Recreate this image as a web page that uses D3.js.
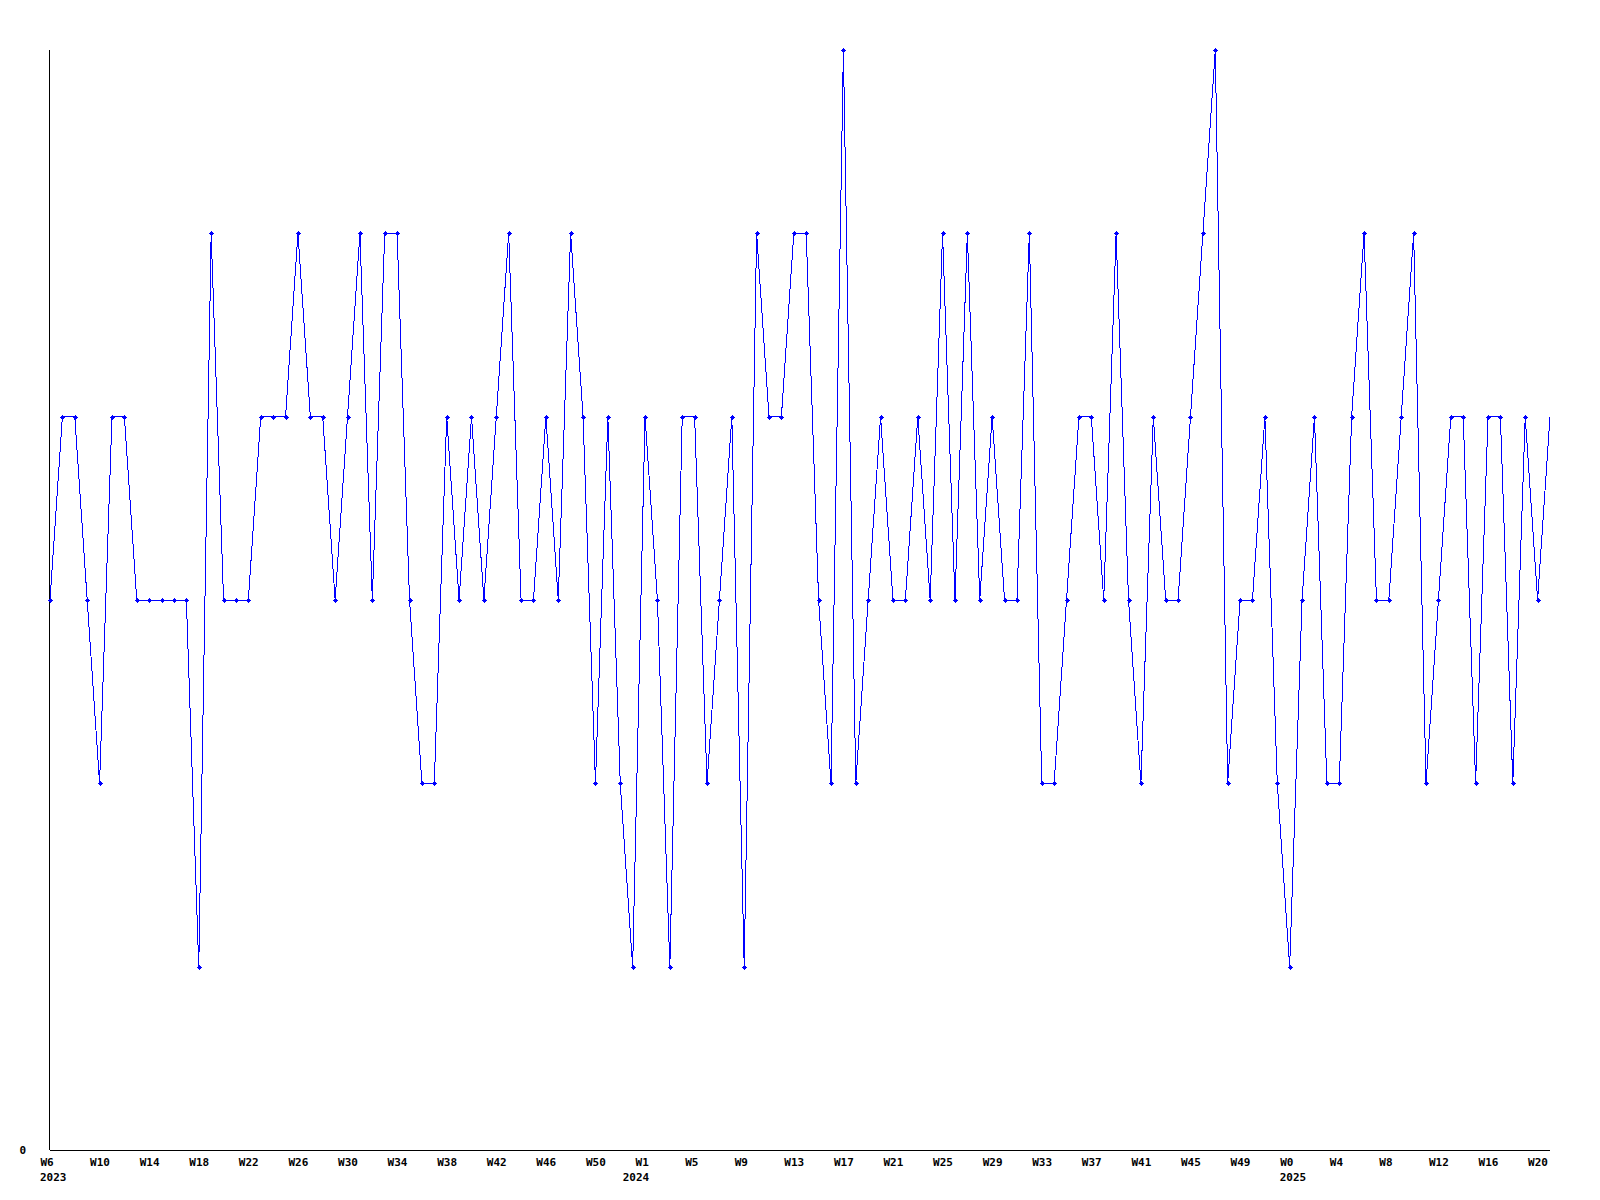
<!DOCTYPE html>
<html>
<head>
<meta charset="utf-8">
<script src="https://cdn.jsdelivr.net/npm/d3@7"></script>
<style>
  html, body { margin: 0; padding: 0; background: #ffffff; }
  svg { display: block; }
  text { font-family: "DejaVu Sans Mono", "Liberation Mono", monospace; font-weight: bold; font-size: 11px; fill: #000; }
</style>
</head>
<body>
<svg id="chart" width="1600" height="1200"></svg>
<script>
// Week categories (one per data point)
const weeks = [
  "2023-W6","2023-W7","2023-W8","2023-W9","2023-W10","2023-W11","2023-W12","2023-W13","2023-W14","2023-W15",
  "2023-W16","2023-W17","2023-W18","2023-W19","2023-W20","2023-W21","2023-W22","2023-W23","2023-W24","2023-W25",
  "2023-W26","2023-W27","2023-W28","2023-W29","2023-W30","2023-W31","2023-W32","2023-W33","2023-W34","2023-W35",
  "2023-W36","2023-W37","2023-W38","2023-W39","2023-W40","2023-W41","2023-W42","2023-W43","2023-W44","2023-W45",
  "2023-W46","2023-W47","2023-W48","2023-W49","2023-W50","2023-W51","2023-W52",
  "2024-W0","2024-W1","2024-W2","2024-W3","2024-W4","2024-W5","2024-W6","2024-W7","2024-W8","2024-W9","2024-W10",
  "2024-W11","2024-W12","2024-W13","2024-W14","2024-W15","2024-W16","2024-W17","2024-W18","2024-W19","2024-W20",
  "2024-W21","2024-W22","2024-W23","2024-W24","2024-W25","2024-W26","2024-W27","2024-W28","2024-W29","2024-W30",
  "2024-W31","2024-W32","2024-W33","2024-W34","2024-W35","2024-W36","2024-W37","2024-W38","2024-W39","2024-W40",
  "2024-W41","2024-W42","2024-W43","2024-W44","2024-W45","2024-W46","2024-W47","2024-W48","2024-W49","2024-W50",
  "2024-W51","2024-W52",
  "2025-W0","2025-W1","2025-W2","2025-W3","2025-W4","2025-W5","2025-W6","2025-W7","2025-W8","2025-W9",
  "2025-W10","2025-W11","2025-W12","2025-W13","2025-W14","2025-W15","2025-W16","2025-W17","2025-W18","2025-W19",
  "2025-W20","2025-W21"
];

// Series values (one per week)
const values = [
  3,4,4,3,2,4,4,3,3,3,
  3,3,1,5,3,3,3,4,4,4,
  5,4,4,3,4,5,3,5,5,3,
  2,2,4,3,4,3,4,5,3,3,
  4,3,5,4,2,4,2,1,4,3,
  1,4,4,2,3,4,1,5,4,4,
  5,5,3,2,6,2,3,4,3,3,
  4,3,5,3,5,3,4,3,3,5,
  2,2,3,4,4,3,5,3,2,4,
  3,3,4,5,6,2,3,3,4,2,
  1,3,4,2,2,4,5,3,3,4,
  5,2,3,4,4,2,4,4,2,4,
  3,4
];

// Tick labels on the x axis (every 4th week) and year sub-labels
const tickWeeks = [
  "2023-W6","2023-W10","2023-W14","2023-W18","2023-W22","2023-W26","2023-W30","2023-W34","2023-W38","2023-W42","2023-W46","2023-W50",
  "2024-W1","2024-W5","2024-W9","2024-W13","2024-W17","2024-W21","2024-W25","2024-W29","2024-W33","2024-W37","2024-W41","2024-W45","2024-W49",
  "2025-W0","2025-W4","2025-W8","2025-W12","2025-W16","2025-W20"
];
const yearTicks = ["2023-W6","2024-W0","2025-W0"];
const yTicks = [0];

const svg = d3.select("#chart");
const mLeft = 50, mRight = 1550, mTop = 50, mBottom = 1150;

const x = d3.scalePoint().domain(weeks).range([mLeft, mRight]);
const y = d3.scaleLinear().domain([0, d3.max(values)]).range([mBottom, mTop]);

// x axis
const xAxis = d3.axisBottom(x).tickValues(tickWeeks).tickSize(0).tickPadding(0)
  .tickFormat(d => d.split("-")[1]);
const gx = svg.append("g").attr("transform", `translate(0,${mBottom})`).call(xAxis);
gx.select(".domain").attr("stroke", "#000").attr("stroke-width", 1).attr("shape-rendering", "crispEdges")
  .attr("d", `M${mLeft},0.5H${mRight}`);
gx.selectAll(".tick text")
  .attr("text-anchor", "start").attr("x", -10).attr("y", 16).attr("dy", null)
  .style("font-family", "'DejaVu Sans Mono', monospace").style("font-weight", "bold").style("font-size", "11px").attr("fill", "#000");

// year labels
svg.append("g").selectAll("text").data(yearTicks).join("text")
  .attr("x", d => x(d) - 10).attr("y", mBottom + 31)
  .text(d => d.split("-")[0]);

// y axis
const yAxis = d3.axisLeft(y).tickValues(yTicks).tickSize(0).tickPadding(24).tickFormat(d3.format("d"));
const gy = svg.append("g").attr("transform", `translate(${mLeft},0)`).call(yAxis);
gy.select(".domain").attr("stroke", "#000").attr("stroke-width", 1).attr("shape-rendering", "crispEdges")
  .attr("d", `M-0.5,${mTop}V${mBottom}`);
gy.selectAll(".tick text")
  .style("font-family", "'DejaVu Sans Mono', monospace").style("font-weight", "bold").style("font-size", "11px").attr("fill", "#000");

// line
const data = weeks.map((w, i) => ({w, v: values[i]}));
const line = d3.line().x(d => x(d.w)).y(d => y(d.v));
svg.append("path").datum(data)
  .attr("d", line)
  .attr("fill", "none").attr("stroke", "#0000ff").attr("stroke-width", 1)
  .attr("shape-rendering", "crispEdges");

// markers (all but the last point)
svg.append("g").selectAll("path").data(data.slice(0, -1)).join("path")
  .attr("transform", d => `translate(${Math.round(x(d.w))},${Math.round(y(d.v))})`)
  .attr("d", "M-2.5,-0.5H2.5V0.5H-2.5Z M-0.5,-2.5H0.5V2.5H-0.5Z M-1.5,-1.5H1.5V1.5H-1.5Z")
  .attr("fill", "#0000ff").attr("shape-rendering", "crispEdges");
</script>
</body>
</html>
